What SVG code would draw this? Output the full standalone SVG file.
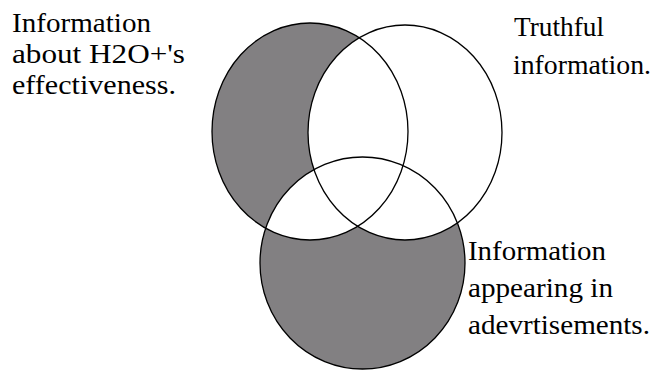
<svg xmlns="http://www.w3.org/2000/svg" width="653" height="371" viewBox="0 0 653 371">
<style>
.lbl{font-family:"Liberation Serif","Times New Roman",serif;font-size:28px;fill:#000}
.ring{fill:none;stroke:#000;stroke-width:1.3}
.shade{fill:#828082}
.blank{fill:#fff}
</style>
<defs>
<clipPath id="clipL"><ellipse cx="310" cy="131.5" rx="98" ry="108.5"/></clipPath>
</defs>
<rect width="653" height="371" fill="#fff"/>
<g id="shading">
<ellipse class="shade" cx="310" cy="131.5" rx="98" ry="108.5"/>
<ellipse class="shade" cx="362.5" cy="263" rx="102.5" ry="106"/>
<ellipse class="blank" cx="405" cy="132.5" rx="97" ry="107.5"/>
<ellipse class="blank" cx="362.5" cy="263" rx="102.5" ry="106" clip-path="url(#clipL)"/>
</g>
<g id="effectiveness">
<ellipse class="ring" cx="310" cy="131.5" rx="98" ry="108.5"/>
<text class="lbl" x="12" y="32" textLength="139" lengthAdjust="spacingAndGlyphs">Information</text>
<text class="lbl" x="12" y="63" textLength="173" lengthAdjust="spacingAndGlyphs">about H2O+'s</text>
<text class="lbl" x="12" y="94" textLength="164" lengthAdjust="spacingAndGlyphs">effectiveness.</text>
</g>
<g id="truthful">
<ellipse class="ring" cx="405" cy="132.5" rx="97" ry="107.5"/>
<text class="lbl" x="514" y="36" textLength="90" lengthAdjust="spacingAndGlyphs">Truthful</text>
<text class="lbl" x="513" y="74" textLength="138" lengthAdjust="spacingAndGlyphs">information.</text>
</g>
<g id="advertisements">
<ellipse class="ring" cx="362.5" cy="263" rx="102.5" ry="106"/>
<text class="lbl" x="468" y="260" textLength="138" lengthAdjust="spacingAndGlyphs">Information</text>
<text class="lbl" x="468" y="297" textLength="145" lengthAdjust="spacingAndGlyphs">appearing in</text>
<text class="lbl" x="468" y="334" textLength="182" lengthAdjust="spacingAndGlyphs">adevrtisements.</text>
</g>
</svg>
